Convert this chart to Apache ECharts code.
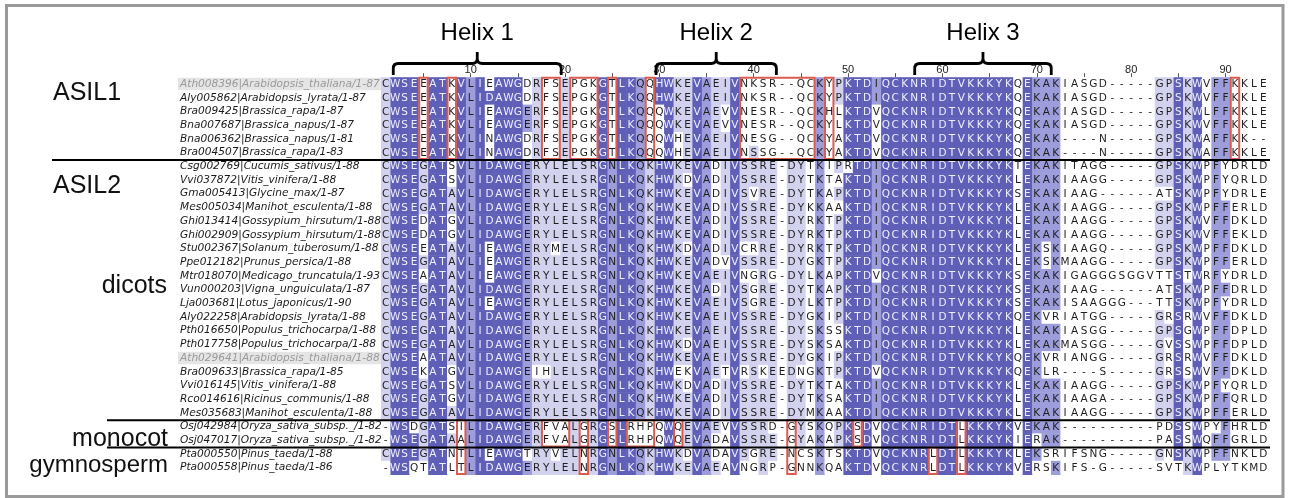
<!DOCTYPE html>
<html><head><meta charset="utf-8">
<script src="https://cdn.jsdelivr.net/npm/echarts@6/dist/echarts.min.js"></script>
<style>html,body{margin:0;padding:0;background:#fff;}#c{width:1289px;height:498px;}</style>
</head><body><div id="c"></div>
<script>
// ---------------- data ----------------
const seqNames = [
 "Ath008396|Arabidopsis_thaliana/1-87","Aly005862|Arabidopsis_lyrata/1-87","Bra009425|Brassica_rapa/1-87",
 "Bna007687|Brassica_napus/1-87","Bna006362|Brassica_napus/1-81","Bra004507|Brassica_rapa/1-83",
 "Csg002769|Cucumis_sativus/1-88","Vvi037872|Vitis_vinifera/1-88","Gma005413|Glycine_max/1-87",
 "Mes005034|Manihot_esculenta/1-88","Ghi013414|Gossypium_hirsutum/1-88","Ghi002909|Gossypium_hirsutum/1-88",
 "Stu002367|Solanum_tuberosum/1-88","Ppe012182|Prunus_persica/1-88","Mtr018070|Medicago_truncatula/1-93",
 "Vun000203|Vigna_unguiculata/1-87","Lja003681|Lotus_japonicus/1-90","Aly022258|Arabidopsis_lyrata/1-88",
 "Pth016650|Populus_trichocarpa/1-88","Pth017758|Populus_trichocarpa/1-88","Ath029641|Arabidopsis_thaliana/1-88",
 "Bra009633|Brassica_rapa/1-85","Vvi016145|Vitis_vinifera/1-88","Rco014616|Ricinus_communis/1-88",
 "Mes035683|Manihot_esculenta/1-88","Osj042984|Oryza_sativa_subsp._/1-82","Osj047017|Oryza_sativa_subsp._/1-82",
 "Pta000550|Pinus_taeda/1-88","Pta000558|Pinus_taeda/1-86"
];
const sequences = [
 ["CWSEEATKVLIEAWGDRFSEPGKGTLKQQHW","KEVAEIVNKSR--QCKYPKTDIQCKNRIDTV","KKKYKQEKAKIASGD-----GPSKWVFFKKLE"],
 ["CWSEEATKVLIDAWGDRFSEPGKGTLKQQHW","KEVAEIVNKSR--QCKYPKTDIQCKNRIDTV","KKKYKQEKAKIASGD-----GPSKWVFFKKLE"],
 ["CWSEEATKVLIEAWGERFSEPGKGTLKQQQW","KEVAEVVNESR--QCKHLKTDVQCKNRIDTV","KKKYKQEKAKIASGD-----GPSKWLFFKKLE"],
 ["CWSEEATKVLIEAWGERFSEPGKGTLKQQQW","KEVAEVVNESR--QCKYLKTDVQCKNRIDTV","KKKYKQEKAKIASGD-----GPSKWVFFKKLE"],
 ["CWSEEATKVLINAWGDRFSEPGKGTLKQQQW","HEVAEIVNESG--QCKYAKTDVQCKNRIDTV","KKKYKQEKAK----N-----GPSKWAFFKK--"],
 ["CWSEEATKVLINAWGDRFSEPGKGTLKQQQW","HEVAEIVNSSG--QCKYAKTDVQCKNRIDTV","KKKYKQEKAK----N-----GPSKWAFFKKLE"],
 ["CWSEGATSVLIDAWGERYLELSRGNLKQKHW","KEVADIVSSRE-DYTKIPRTDIQCKNRIDTV","KKKYKTEKAKITAGG-----GPSKWPFYDRLD"],
 ["CWSEGATSVLIDAWGERYLELSRGNLKQKHW","KDVADIVSSRE-DYTKTAKTDIQCKNRIDTV","KKKYKLEKAKIAAGG-----GPSKWPFYQRLD"],
 ["CWSEGATAVLIDAWGERYLELSRGNLKQKHW","KEVADIVSVRE-DYTKAPKTDIQCKNRIDTV","KKKYKSEKAKIAAG------ATSKWPFYDRLE"],
 ["CWSEGATAVLIDAWGERYLELSRGNLKQKHW","KEVADIVSSRE-DYKKAAKTDIQCKNRIDTV","KKKYKLEKAKIAAGG-----GPSKWPFFERLD"],
 ["CWSEDATGVLIDAWGERYLELSRGNLKQKHW","KEVADIVSSRE-DYRKTPKTDIQCKNRIDTV","KKKYKLEKAKIAAGG-----GPSKWVFFDKLD"],
 ["CWSEDATGVLIDAWGERYLELSRGNLKQKHW","KEVADIVSSRE-DYRKTPKTDIQCKNRIDTV","KKKYKLEKAKIAAGG-----GPSKWVFFEKLD"],
 ["CWSEEATAVLIEAWGERYMELSRGNLKQKHW","KDVADIVCRRE-DYRKTPKTDIQCKNRIDTV","KKKYKLEKSKIAAGQ-----GPSKWPFFDKLD"],
 ["CWSEGATAVLIEAWGERYLELSRGNLKQKHW","KEVADVVSSRE-DYGKTPKTDIQCKNRIDTV","KKKYKLEKSKMAAGG-----GPSKWPFFERLD"],
 ["CWSEAATAVLIEAWGERYLELSRGNLKQKHW","KEVAEIVNGRG-DYLKAPKTDVQCKNRIDTV","KKKYKSEKAKIGAGGGSGGVTTSTWRFYDRLD"],
 ["CWSEGATAVLIDAWGERYLELSRGNLKQKHW","KEVADIVSGRE-DYTKAPKTDIQCKNRIDTV","KKKYKSEKAKIAAG------ATSKWPFFDRLD"],
 ["CWSEGATAVLIEAWGERYLELSRGNLKQKHW","KEVAEIVSGRE-DYLKTPKTDIQCKNRIDTV","KKKYKSEKAKISAAGGG---TTSKWPFYDRLD"],
 ["CWSEGATAVLIDAWGERYLELSRGNLKQKHW","KEVAEIVSSRE-DYGKIPKTDIQCKNRIDTV","KKKYKQEKVRIATGG-----GRSRWVFFDKLD"],
 ["CWSEGATAVLIDAWGERYLELSRGNLKQKHW","KEVAEIVSSRE-DYSKSSKTDIQCKNRIDTV","KKKYKLEKAKIASGG-----GPSGWPFFDPLD"],
 ["CWSEGATAVLIDAWGERYLELSRGNLKQKHW","KDVAEIVSSRE-DYSKSAKTDIQCKNRIDTV","KKKYKLEKAKMASGG-----GVSSWPFFDPLD"],
 ["CWSEAATAVLIDAWGERYLELSRGNLKQKHW","KEVAEIVSSRE-DYGKIPKTDIQCKNRIDTV","KKKYKQEKVRIANGG-----GRSRWVFFDKLD"],
 ["CWSEKATGVLIDAWGEIHLELSRGNLKQKHW","EKVAETVRSKEEDNGKTPKTDVQCKNRIDTV","KKKYKQEKLR----S-----GRSSWVFFDKLD"],
 ["CWSEGATSVLIDAWGERYLELSRGNLKQKHW","KDVADIVSSRE-DYTKTAKTDIQCKNRIDTV","KKKYKLEKAKIAAGG-----GPSKWPFYQRLD"],
 ["CWSEGATGVLIDAWGERYLELSRGNLKQKHW","KEVADIVSSRE-DYTKSAKTDIQCKNRIDTV","KKKYKLEKAKIAAGA-----GPSKWPFFQRLD"],
 ["CWSEGATAVLIDAWGERYLELSRGNLKQKHW","KEVADIVSSRE-DYMKAAKTDIQCKNRIDTV","KKKYKLEKAKIAAGG-----GPSKWPFFERLD"],
 ["-WSDGATSILIDAWGERFVALGRGSLRHPQW","QEVAEVVSSRD-GYSKQPKSDVQCKNRIDTL","KKKYKVEKAK----------PDSSWPYFHRLD"],
 ["-WSEGATAALIDAWGERFVALGRGSLRHPQW","QEVADAVSSRE-GYAKAPKSDVQCKNRIDTL","KKKYKIERAK----------PASSWQFFGRLD"],
 ["CWSEGATNTLIEAWGTRYVELNRGNLKQKHW","KDVADAVSGRE-NCSKTSKTDVQCKNRLDTL","KKKYKLEKSRIFSNG-----GNSKWPFFNKLD"],
 ["-WSQTATLTLIDAWGERYLELNRGNLKQKHW","KEVAEAVNGRP-GNNKQAKTDVQCKNRLDTL","KKKYKVERSKIFS-G-----SVTKWPLYTKMD"]
].map(p => p.join(''));
// identity shade of the consensus residue per column (0 none, 1 >40%, 2 >60%, 3 >80%)
const columnShade = "1333133132"+"3333321111"+"1113233213"+"3113211311"+"1101102013"+
                    "3323333333"+"3333333032"+"2200000000"+"0011313022"+"0000";
const rulerTicks = [5,10,15,20,25,30,35,40,45,50,55,60,65,70,75,80,85,90];
const rulerLabels = [10,20,30,40,50,60,70,80,90];
const helices = [["Helix 1",1.8,19.6],["Helix 2",29.65,42.4],["Helix 3",57.06,71.53]];
const highlightedRows = [1,21];
// red boxes: [firstCol, lastCol, firstRow, lastRow]
const redBoxes = [
 [5,5,1,6],[8,8,1,6],[18,19,1,6],[21,23,1,6],[25,25,1,6],[29,29,1,6],[39,46,1,6],[48,48,1,6],[91,91,1,6],
 [9,9,26,29],[18,20,26,27],[22,22,26,27],[22,22,28,29],[25,25,26,27],[27,29,26,27],
 [32,32,26,27],[44,44,26,29],[51,51,26,27],[59,59,28,29],[62,62,26,29]
];
const separatorRows = [6.5,25.5,27.5];
const groupLabels = ["ASIL1","ASIL2","dicots","monocot","gymnosperm"];

// ---------------- styling ----------------
const FILLS = ['#ffffff','#d2d2ef','#9d9ddb','#5f5fb7'];
const RED = '#dc5b4f';
const sepStartX = [52,107,107];
const groupLabelStyle = [
  {x:53,y:93,align:'left',size:25},{x:53,y:186.5,align:'left',size:25},
  {x:167,y:286.5,align:'right',size:25},{x:168,y:439.5,align:'right',size:25},
  {x:168,y:465.5,align:'right',size:24}
];
const NCOL = sequences[0].length, NROW = sequences.length;
const GRID = {left:381, top:77.2, width:887, height:397.3};

// consensus residues (mode of each column)
const consensus = [];
for (let c=0;c<NCOL;c++){
  const cnt = {};
  sequences.forEach(s=>{const ch=s[c]; if(ch!=='-') cnt[ch]=(cnt[ch]||0)+1;});
  const mx = Math.max(...Object.values(cnt));
  consensus.push(Object.keys(cnt).filter(k=>cnt[k]===mx));
}
const cellData = [], cellChars = [];
sequences.forEach((s,ri)=>{
  for (let c=0;c<NCOL;c++){
    const ch = s[c];
    const lvl = (ch!=='-' && consensus[c].includes(ch)) ? +columnShade[c] : 0;
    cellData.push([c+1, ri+1, lvl]); cellChars.push(ch);
  }
});

const chart = echarts.init(document.getElementById('c'));
chart.setOption({
  animation:false,
  grid:{left:GRID.left, top:GRID.top, width:GRID.width, height:GRID.height},
  xAxis:{type:'value', min:0.5, max:NCOL+0.5, position:'top',
    axisLine:{show:false}, splitLine:{show:false},
    axisTick:{show:true, customValues:rulerTicks, length:4, lineStyle:{color:'#555', width:1}},
    axisLabel:{show:true, customValues:rulerLabels, margin:2, fontFamily:'Liberation Sans', fontSize:11, color:'#222'}},
  yAxis:{type:'value', min:0.5, max:NROW+0.5, inverse:true,
    axisLine:{show:false}, splitLine:{show:false}, axisTick:{show:false},
    axisLabel:{show:true, customValues:seqNames.map((_,i)=>i+1), align:'left', margin:203,
      formatter:(v)=>{const i=Math.round(v); return (highlightedRows.includes(i)?'{h|':'{n|')+seqNames[i-1]+'}';},
      rich:{
        n:{fontFamily:'DejaVu Sans', fontStyle:'italic', fontSize:10.6, color:'#1a1a1a', width:203, height:12.5, padding:[0,0,0,2]},
        h:{fontFamily:'DejaVu Sans', fontStyle:'italic', fontSize:10.6, color:'#9a9a9a', width:203, height:12.5, padding:[0,0,0,2], backgroundColor:'#e5e5e5'}
      }}},
  graphic:[
    {type:'rect', shape:{x:6.5, y:5.5, width:1276.5, height:491}, style:{fill:null, stroke:'#9a9a9a', lineWidth:3}, silent:true},
    ...groupLabels.map((t,i)=>({type:'text', x:groupLabelStyle[i].x, y:groupLabelStyle[i].y, silent:true,
      style:{text:t, fill:'#111', font:groupLabelStyle[i].size+'px "Liberation Sans"', align:groupLabelStyle[i].align, verticalAlign:'middle'}}))
  ],
  series:[
    {type:'custom', coordinateSystem:'cartesian2d', silent:true, clip:false, data:cellData, encode:{x:0,y:1},
     renderItem:(params, api)=>{
       const c=api.value(0), r=api.value(1), lvl=api.value(2);
       const p0=api.coord([c-0.5,r-0.5]), p1=api.coord([c+0.5,r+0.5]);
       const ch=cellChars[params.dataIndex];
       const ext = lvl>0 ? 0.5 : 0;
       return {type:'group', children:[
         {type:'rect', shape:{x:p0[0], y:p0[1], width:p1[0]-p0[0]+ext, height:p1[1]-p0[1]+ext}, style:{fill:FILLS[lvl]}},
         {type:'text', x:(p0[0]+p1[0])/2, y:(p0[1]+p1[1])/2+0.5,
          style:{text:ch, fill: lvl===3?'#eeeeff':'#1e1e1e', font:'10.5px "DejaVu Sans"', align:'center', verticalAlign:'middle'}}
       ]};
     }},
    {type:'custom', coordinateSystem:'cartesian2d', silent:true, clip:false, data:redBoxes, encode:{x:[0,1],y:[2,3]}, z:5,
     renderItem:(params, api)=>{
       const p0=api.coord([api.value(0)-0.5, api.value(2)-0.5]);
       const p1=api.coord([api.value(1)+0.5, api.value(3)+0.5]);
       return {type:'rect', shape:{x:p0[0]+0.5, y:p0[1]+0.5, width:p1[0]-p0[0]-1, height:p1[1]-p0[1]-1},
               style:{fill:null, stroke:RED, lineWidth:2}};
     }},
    {type:'custom', coordinateSystem:'cartesian2d', silent:true, clip:false, data:separatorRows.map(v=>[1,v]), encode:{x:0,y:1}, z:6,
     renderItem:(params, api)=>{
       const y=api.coord([1, api.value(1)])[1];
       const xr=api.coord([NCOL+0.5,1])[0]+2;
       return {type:'line', shape:{x1:sepStartX[params.dataIndex], y1:y+0.5, x2:xr, y2:y+0.5}, style:{stroke:'#000', lineWidth:2}};
     }},
    {type:'custom', coordinateSystem:'cartesian2d', silent:true, clip:false, data:helices.map(h=>[h[1],h[2]]), encode:{x:[0,1]}, z:6,
     renderItem:(params, api)=>{
       const x0=api.coord([api.value(0),1])[0], x1=api.coord([api.value(1),1])[0], xm=(x0+x1)/2;
       const yBar=63.5, yEnd=75, yTip=52, r=5;
       const d=`M${x0} ${yEnd} L${x0} ${yBar+r} Q${x0} ${yBar} ${x0+r} ${yBar} L${xm-r} ${yBar} Q${xm} ${yBar} ${xm} ${yBar-r} L${xm} ${yTip} `+
               `M${xm} ${yBar-r} Q${xm} ${yBar} ${xm+r} ${yBar} L${x1-r} ${yBar} Q${x1} ${yBar} ${x1} ${yBar+r} L${x1} ${yEnd}`;
       return {type:'group', children:[
         {type:'path', shape:{pathData:d}, style:{fill:null, stroke:'#000', lineWidth:2.8}},
         {type:'text', x:xm, y:33.5, style:{text:helices[params.dataIndex][0], fill:'#000', font:'24px "Liberation Sans"', align:'center', verticalAlign:'middle'}}
       ]};
     }}
  ]
});
</script></body></html>
